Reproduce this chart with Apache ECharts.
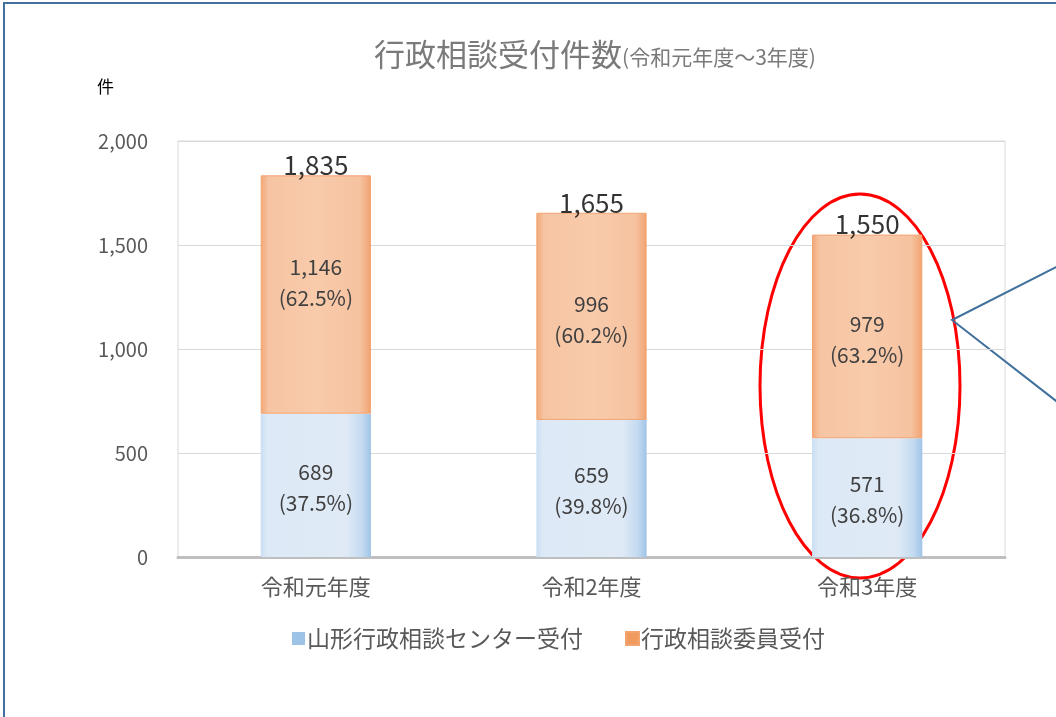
<!DOCTYPE html>
<html><head><meta charset="utf-8">
<script src="https://cdn.jsdelivr.net/npm/echarts@6/dist/echarts.min.js"></script>
<style>html,body{margin:0;padding:0;background:#fff}#c{width:1056px;height:717px}</style>
</head><body><div id="c"></div>
<script>
const categories = ['令和元年度', '令和2年度', '令和3年度'];
const centerValues = [689, 659, 571];
const committeeValues = [1146, 996, 979];
const totals = [1835, 1655, 1550];
const centerPct = ['37.5%', '39.8%', '36.8%'];
const committeePct = ['62.5%', '60.2%', '63.2%'];
const seriesNames = ['山形行政相談センター受付', '行政相談委員受付'];
const yTicks = [0, 500, 1000, 1500, 2000];

const FONT = '"Noto Sans CJK JP", "Noto Sans", sans-serif';
const fmt = v => Number(v).toLocaleString('en-US');

const chart = echarts.init(document.getElementById('c'));
const blueGrad = new echarts.graphic.LinearGradient(0, 0, 1, 0, [
  {offset: 0, color: '#cadff3'}, {offset: 0.06, color: '#dde9f6'},
  {offset: 0.78, color: '#dfeaf6'}, {offset: 0.92, color: '#c3daf0'}, {offset: 1, color: '#9fc3e7'}]);
const orangeGrad = new echarts.graphic.LinearGradient(0, 0, 1, 0, [
  {offset: 0, color: '#f2a676'}, {offset: 0.07, color: '#f6c4a2'},
  {offset: 0.5, color: '#f8cbab'}, {offset: 0.9, color: '#f6c2a0'}, {offset: 1, color: '#f1a26f'}]);

// label nudges (style only)
const committeeLabelOffsets = [[0, -12], [0, 3], [0, 3]];

chart.setOption({
  animation: false,
  backgroundColor: '#fff',
  title: {
    left: 590, top: 34, textAlign: 'center',
    text: '{a|行政相談受付件数}{b|(令和元年度～3年度)}',
    textStyle: {
      fontWeight: 'normal',
      rich: {
        a: {fontFamily: FONT, fontSize: 31, fontWeight: 'normal', color: '#7a7a7a'},
        b: {fontFamily: FONT, fontSize: 21, fontWeight: 'normal', color: '#7a7a7a', padding: [5, 0, 0, 0]}
      }
    }
  },
  legend: {
    left: 287, top: 622, itemWidth: 13, itemHeight: 13, itemGap: 42, icon: 'rect',
    textStyle: {fontFamily: FONT, fontSize: 23, color: '#595959', padding: [0, 0, 0, -3]},
    data: [
      {name: seriesNames[0], itemStyle: {color: '#9dc3e6'}},
      {name: seriesNames[1], itemStyle: {color: '#f19a5f'}}
    ]
  },
  grid: {left: 178, right: 51, top: 141, bottom: 160, show: true, borderColor: '#d9d9d9', borderWidth: 1},
  xAxis: {
    type: 'category', data: categories,
    axisLine: {show: true, lineStyle: {color: '#bfbfbf', width: 3}},
    axisTick: {show: false},
    axisLabel: {fontFamily: FONT, fontSize: 22, color: '#595959', margin: 19}
  },
  yAxis: {
    type: 'value', min: 0, max: 2000, interval: 500,
    axisLine: {show: false}, axisTick: {show: false},
    splitLine: {lineStyle: {color: '#d9d9d9', width: 1}},
    axisLabel: {fontFamily: FONT, fontSize: 20, color: '#595959', margin: 30,
      formatter: v => yTicks.includes(v) ? fmt(v) : ''}
  },
  series: [
    {
      name: seriesNames[0], type: 'bar', stack: 'total', barWidth: '40%',
      data: centerValues,
      itemStyle: {color: blueGrad},
      label: {show: true, position: 'inside', offset: [0, 2], fontFamily: FONT, fontSize: 21, color: '#404040', lineHeight: 31,
        formatter: p => fmt(p.value) + '\n(' + centerPct[p.dataIndex] + ')'}
    },
    {
      name: seriesNames[1], type: 'bar', stack: 'total', barWidth: '40%',
      data: committeeValues.map((v, i) => ({value: v, label: {offset: committeeLabelOffsets[i]}})),
      itemStyle: {color: orangeGrad, borderColor: '#f2a470', borderWidth: 1},
      label: {show: true, position: 'inside', fontFamily: FONT, fontSize: 21, color: '#404040', lineHeight: 31,
        formatter: p => fmt(p.value) + '\n(' + committeePct[p.dataIndex] + ')'}
    },
    {
      name: '合計', type: 'scatter', data: totals, symbolSize: 0, silent: true,
      label: {show: true, position: 'top', distance: -3, fontFamily: FONT, fontSize: 26, color: '#000',
        formatter: p => fmt(p.value)}
    }
  ],
  graphic: [
    {type: 'rect', shape: {x: 4, y: 3, width: 1200, height: 900}, style: {fill: 'none', stroke: '#41719c', lineWidth: 2}, silent: true},
    {type: 'text', left: 97, top: 78, style: {text: '件', fontFamily: FONT, fontSize: 17, fill: '#000'}},
    {type: 'ellipse', shape: {cx: 860, cy: 386, rx: 100, ry: 192}, style: {fill: 'none', stroke: '#ff0000', lineWidth: 3}, silent: true},
    {type: 'polyline', shape: {points: [[1060, 265], [952, 320], [1060, 404]]}, style: {fill: 'none', stroke: '#41719c', lineWidth: 2}, silent: true}
  ]
});
</script></body></html>
